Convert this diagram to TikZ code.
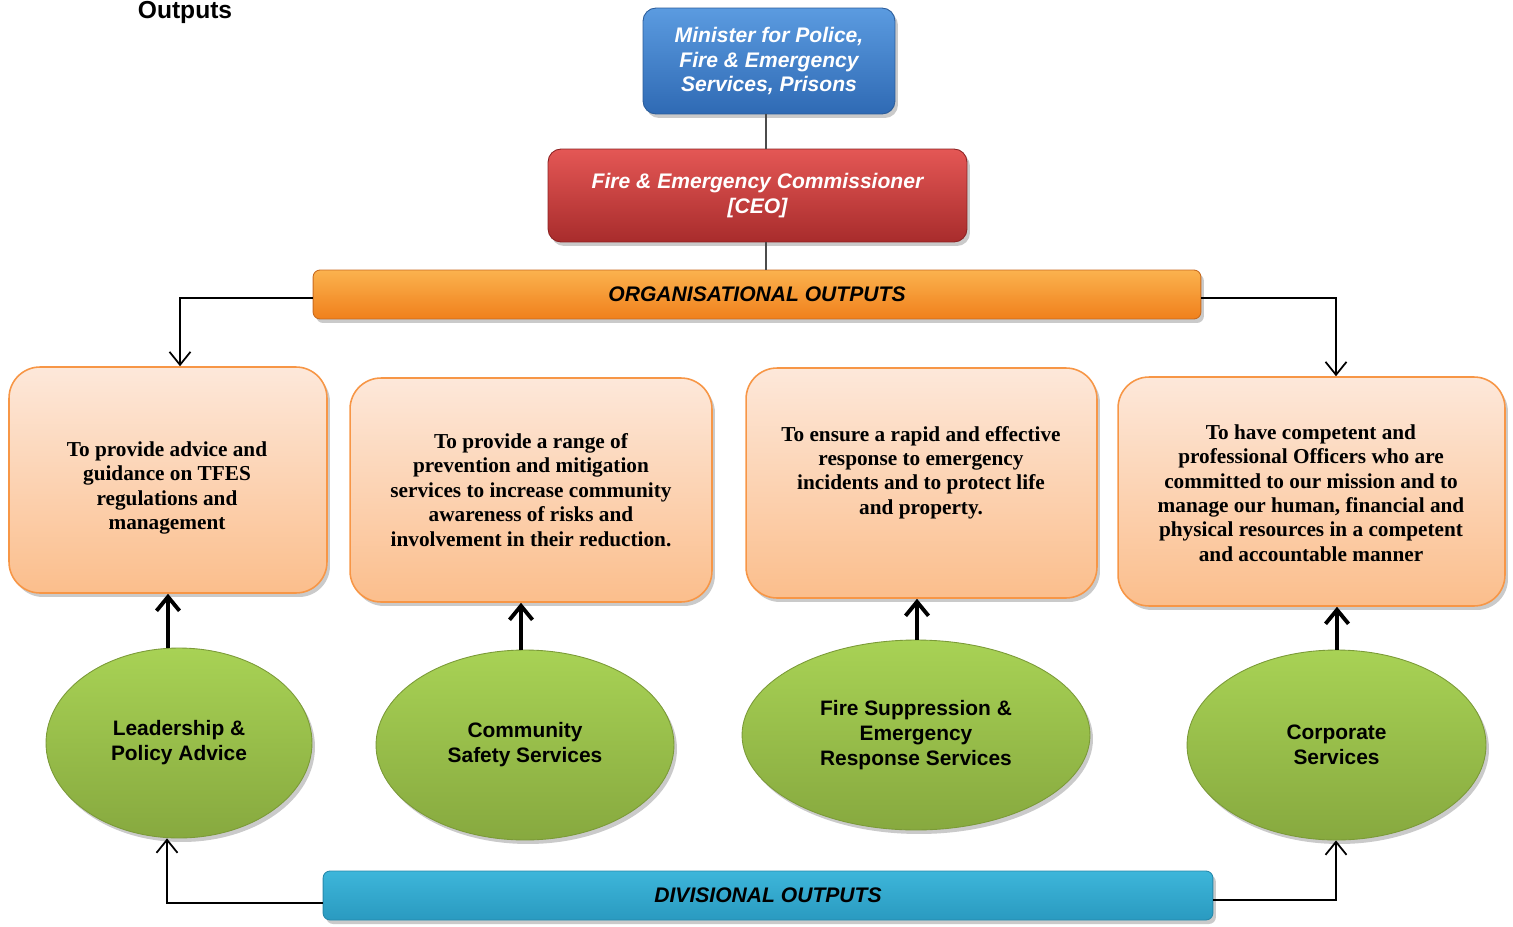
\documentclass[tikz,border=0pt]{standalone}
\usepackage{fontspec}
\setmainfont{Liberation Serif}
\setsansfont{Liberation Sans}
\usetikzlibrary{arrows.meta,shapes.geometric,shadows}
\definecolor{bluetop}{HTML}{5B9BE0}
\definecolor{bluebot}{HTML}{2F6AB4}
\definecolor{blueedge}{HTML}{2A5C9A}
\definecolor{redtop}{HTML}{E45755}
\definecolor{redbot}{HTML}{A82C2C}
\definecolor{rededge}{HTML}{8C2222}
\definecolor{ortop}{HTML}{FBB24E}
\definecolor{orbot}{HTML}{F0801C}
\definecolor{oredge}{HTML}{C86A1E}
\definecolor{peachtop}{HTML}{FDE8DA}
\definecolor{peachbot}{HTML}{FBBE8C}
\definecolor{peachedge}{HTML}{F79646}
\definecolor{greentop}{HTML}{A8D255}
\definecolor{greenbot}{HTML}{87A93F}
\definecolor{greenedge}{HTML}{7B9A38}
\definecolor{cyantop}{HTML}{3DB6DA}
\definecolor{cyanbot}{HTML}{2A9AC0}
\definecolor{cyanedge}{HTML}{2689AB}
\tikzset{
  x=0.02cm, y=-0.02cm,
  shadowed/.style={drop shadow={shadow xshift=0.06cm,shadow yshift=-0.08cm,opacity=0.35,fill=black!60}},
  headbox/.style={rectangle, rounded corners=0.26cm, draw=#1edge, line width=0.5pt,
    top color=#1top, bottom color=#1bot, shadowed, inner sep=0pt,
    text=white, font=\sffamily\bfseries\itshape\fontsize{12}{13.9}\selectfont, align=center},
  barbox/.style={rectangle, rounded corners=0.14cm, draw=#1edge, line width=0.5pt,
    top color=#1top, bottom color=#1bot, shadowed, inner sep=0pt,
    text=black, font=\sffamily\bfseries\itshape\fontsize{12}{13.9}\selectfont},
  outbox/.style={rectangle, rounded corners=0.62cm, draw=peachedge, line width=0.9pt,
    top color=peachtop, bottom color=peachbot, shadowed, inner sep=0pt},
  outtext/.style={font=\bfseries\fontsize{12.1}{13.9}\selectfont, align=center, text=black},
  division/.style={ellipse, draw=greenedge, line width=0.5pt,
    top color=greentop, bottom color=greenbot, shadowed, inner sep=0pt,
    font=\sffamily\bfseries\fontsize{11.9}{14.2}\selectfont, align=center, text=black},
  thinarrow/.style={draw=black, line width=1pt, -{Straight Barb[length=0.26cm,width=0.42cm,line width=1pt]}},
  thinline/.style={draw=black, line width=1pt},
  fatarrow/.style={draw=black, line width=2.4pt, -{Straight Barb[length=0.28cm,width=0.46cm,line width=2.2pt]}},
  link/.style={draw=black!70, line width=0.6pt}
}
\begin{document}
\begin{tikzpicture}
\useasboundingbox (0,0) rectangle (1513,926);
\clip (0,0) rectangle (1513,926);
% title fragment
\node[font=\sffamily\bfseries\fontsize{14}{17}\selectfont, anchor=base] (title) at (185,19) {Outputs};
% top boxes
\node[headbox=blue, minimum width=5.04cm, minimum height=2.12cm] (min) at (769,61)
  {Minister for Police,\\Fire \& Emergency\\Services, Prisons};
\node[headbox=red, minimum width=8.38cm, minimum height=1.86cm] (ceo) at (757.5,195.5)
  {Fire \& Emergency Commissioner\\{[}CEO{]}};
\node[barbox=or, minimum width=17.76cm, minimum height=0.98cm] (org) at (757,294.5) {ORGANISATIONAL OUTPUTS};
\node[barbox=cyan, minimum width=17.8cm, minimum height=0.98cm] (div) at (768,895.5) {DIVISIONAL OUTPUTS};
% vertical links
\coordinate (mx) at (766,0);
\draw[link] (min.south -| mx) -- (ceo.north -| mx);
\draw[link] (ceo.south -| mx) -- (org.north -| mx);
% output boxes
\node[outbox, minimum width=6.36cm, minimum height=4.52cm] (o1) at (168,480) {};
\node[outbox, minimum width=7.24cm, minimum height=4.48cm] (o2) at (531,490) {};
\node[outbox, minimum width=7.02cm, minimum height=4.6cm] (o3) at (921.5,483) {};
\node[outbox, minimum width=7.74cm, minimum height=4.58cm] (o4) at (1311.5,491.5) {};
\node[outtext] (t1) at (167,488) {To provide advice and\\guidance on TFES\\regulations and\\management};
\node[outtext] (t2) at (531,490) {To provide a range of\\prevention and mitigation\\services to increase community\\awareness of risks and\\involvement in their reduction.};
\node[outtext] (t3) at (921,472.5) {To ensure a rapid and effective\\response to emergency\\incidents and to protect life\\and property.};
\node[outtext] (t4) at (1311,493) {To have competent and\\professional Officers who are\\committed to our mission and to\\manage our human, financial and\\physical resources in a competent\\and accountable manner};
% divisions
\node[division, minimum width=5.32cm, minimum height=3.8cm] (d1) at (179,743) {Leadership \&\\Policy Advice};
\node[division, minimum width=5.96cm, minimum height=3.8cm] (d2) at (525,745) {Community\\Safety Services};
\node[division, minimum width=6.96cm, minimum height=3.8cm] (d3) at (916,735) {Fire Suppression \&\\Emergency\\Response Services};
\node[division, minimum width=5.98cm, minimum height=3.8cm] (d4) at (1336.5,745) {Corporate\\Services};
% fat arrows division -> output
\coordinate (a1) at (168,0);
\coordinate (a2) at (521,0);
\coordinate (a3) at (917,0);
\coordinate (a4) at (1337,0);
\draw[fatarrow] (d1.north -| a1) -- (o1.south -| a1);
\draw[fatarrow] (d2.north -| a2) -- (o2.south -| a2);
\draw[fatarrow] (d3.north -| a3) -- (o3.south -| a3);
\draw[fatarrow] (d4.north -| a4) -- (o4.south -| a4);
% organisational output connectors
\coordinate (ol) at (180,298);
\coordinate (orr) at (1336,298);
\draw[thinarrow] (org.west |- ol) -- (ol) -- (ol |- o1.north);
\draw[thinarrow] (org.east |- orr) -- (orr) -- (orr |- o4.north);
% divisional output connectors
\coordinate (dl) at (167,903);
\coordinate (dr) at (1336,900);
\draw[thinarrow] (div.west |- dl) -- (dl) -- (dl |- d1.south);
\draw[thinarrow] (div.east |- dr) -- (dr) -- (dr |- d4.south);
\end{tikzpicture}
\end{document}
